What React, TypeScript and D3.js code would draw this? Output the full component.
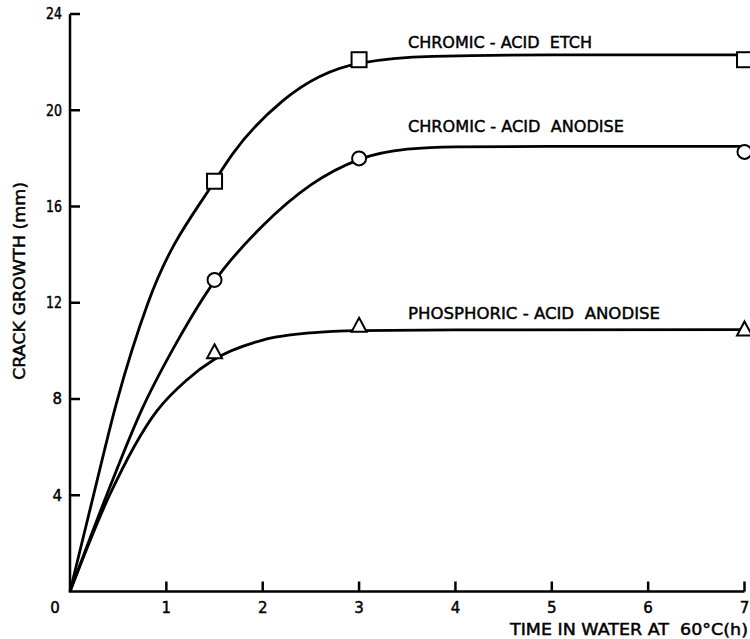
import React from "react";
import * as d3 from "d3";

// axis ticks
const timeTicks = [0, 1, 2, 3, 4, 5, 6, 7];
const growthTicks = [4, 8, 12, 16, 20, 24];

// fitted curves: [time (h), crack growth (mm)]
const etchCurve: [number, number][] = [
  [0, 0], [0.25, 4.1], [0.48, 7.8], [0.81, 12], [1.5, 17.05], [1.69, 18.2],
  [2.21, 20.4], [3.0, 21.95], [3.77, 22.24], [5.0, 22.3], [7.0, 22.3],
];
const anodiseCurve: [number, number][] = [
  [0, 0], [0.38, 4], [0.75, 7.6], [1.1, 10.3], [1.5, 12.9], [2.0, 15.2], [2.5, 16.9],
  [3.0, 17.95], [3.5, 18.38], [4.0, 18.48], [5.0, 18.5], [7.0, 18.5],
];
const phosphoricCurve: [number, number][] = [
  [0, 0], [0.41, 4], [0.9, 7.5], [1.2, 8.75], [1.5, 9.65], [2.0, 10.45], [2.5, 10.75],
  [3.0, 10.84], [4.0, 10.87], [7.0, 10.88],
];

// measured points
const etchPoints: [number, number][] = [[1.5, 17.05], [3, 22.1], [7, 22.1]];
const anodisePoints: [number, number][] = [[1.5, 12.95], [3, 18.0], [7, 18.27]];
const phosphoricPoints: [number, number][] = [[1.5, 9.9], [3, 11.0], [7, 10.85]];

const FONT = "'DejaVu Sans', sans-serif";
const NB = "\u00a0";

export default function App() {
  const width = 750, height = 639;
  const x = d3.scaleLinear().domain([0, 7]).range([70, 744.5]);
  const y = d3.scaleLinear().domain([0, 24]).range([591.5, 14]);
  const line = d3.line<[number, number]>()
    .x(d => x(d[0]))
    .y(d => y(d[1]))
    .curve(d3.curveMonotoneX);

  const stroke = "#000";
  const curveW = 2.8;
  const textInk = { fill: "#000", stroke: "#000", strokeWidth: 0.45 };

  return (
    <svg width={width} height={height} style={{ position: "absolute", left: 0, top: 0, background: "#fff" }}
      fontFamily={FONT}>
      {/* axes */}
      <path d={`M${x(0)},${y(24)}V${y(0)}H${x(7)}`} fill="none" stroke={stroke} strokeWidth={2.5} />
      {growthTicks.map(t => (
        <g key={"gy" + t}>
          <line x1={x(0)} x2={x(0) + 10} y1={y(t)} y2={y(t)} stroke={stroke} strokeWidth={2.5} />
          <text x={62} y={y(t)} dy="0.36em" textAnchor="end" fontSize={15} {...textInk}
            {...(t >= 10 ? { textLength: 16, lengthAdjust: "spacingAndGlyphs" } : {})}>{t}</text>
        </g>
      ))}
      {timeTicks.map(t => (
        <g key={"gx" + t}>
          {t > 0 && <line x1={x(t)} x2={x(t)} y1={y(0)} y2={y(0) - 10} stroke={stroke} strokeWidth={2.5} />}
          <text x={t === 0 ? 55 : x(t)} y={613} textAnchor="middle" fontSize={15} {...textInk}>{t}</text>
        </g>
      ))}

      {/* axis titles */}
      <text x={510} y={635} fontSize={15.5} textLength={238} lengthAdjust="spacingAndGlyphs" {...textInk}>
        {`TIME${NB}IN${NB}WATER${NB}AT${NB}${NB}60°C(h)`}
      </text>
      <text transform="translate(24.5,281) rotate(-90)" textAnchor="middle" fontSize={15}
        textLength={198} lengthAdjust="spacingAndGlyphs" {...textInk}>{`CRACK${NB}GROWTH${NB}(mm)`}</text>

      {/* curves */}
      {[etchCurve, anodiseCurve, phosphoricCurve].map((c, i) => (
        <path key={"c" + i} d={line(c) || ""} fill="none" stroke={stroke} strokeWidth={curveW} />
      ))}

      {/* markers */}
      {etchPoints.map((p, i) => (
        <rect key={"s" + i} x={x(p[0]) - 7.5} y={y(p[1]) - 7.5} width={15} height={15}
          fill="#fff" stroke={stroke} strokeWidth={2} />
      ))}
      {anodisePoints.map((p, i) => (
        <circle key={"o" + i} cx={x(p[0])} cy={y(p[1])} r={7} fill="#fff" stroke={stroke} strokeWidth={2} />
      ))}
      {phosphoricPoints.map((p, i) => {
        const cx = x(p[0]), cy = y(p[1]);
        return (
          <path key={"t" + i} d={`M${cx},${cy - 9}L${cx + 7.5},${cy + 5}L${cx - 7.5},${cy + 5}Z`}
            fill="#fff" stroke={stroke} strokeWidth={2} strokeLinejoin="miter" />
        );
      })}

      {/* series labels */}
      <text x={408} y={48.3} fontSize={16} textLength={184} lengthAdjust="spacingAndGlyphs" {...textInk}>
        {`CHROMIC${NB}-${NB}ACID${NB}${NB}ETCH`}
      </text>
      <text x={408} y={132.3} fontSize={16} textLength={216} lengthAdjust="spacingAndGlyphs" {...textInk}>
        {`CHROMIC${NB}-${NB}ACID${NB}${NB}ANODISE`}
      </text>
      <text x={408} y={319} fontSize={16} textLength={252} lengthAdjust="spacingAndGlyphs" {...textInk}>
        {`PHOSPHORIC${NB}-${NB}ACID${NB}${NB}ANODISE`}
      </text>
    </svg>
  );
}
